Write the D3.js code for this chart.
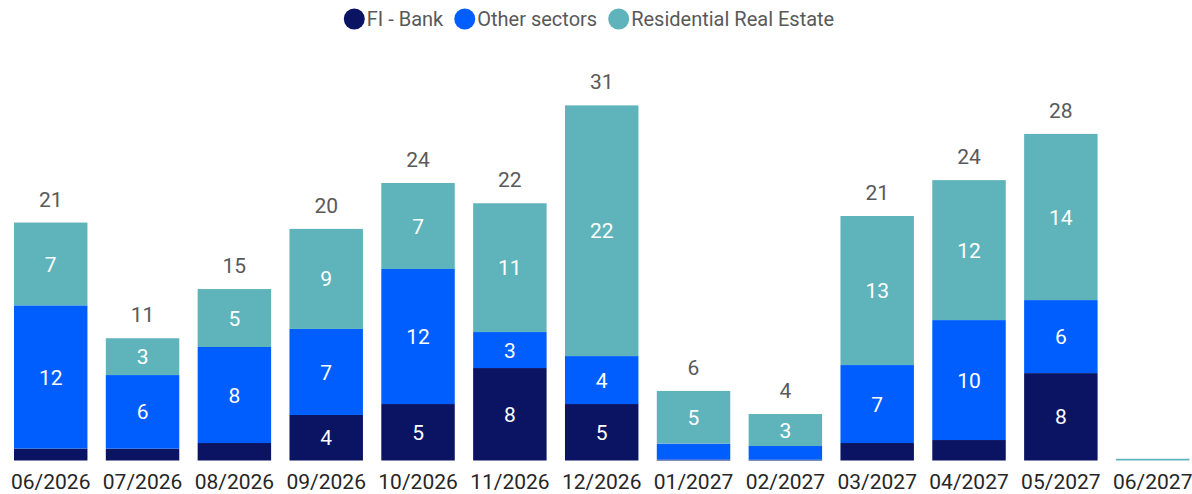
<!DOCTYPE html>
<html>
<head>
<meta charset="utf-8">
<script src="https://cdn.jsdelivr.net/npm/d3@7"></script>
<style>
  body { margin: 0; background: #fff; }
  svg { font-family: Roboto, "Noto Sans", sans-serif; display: block; }
</style>
</head>
<body>
<div class="chart"></div>
<script>
// months on the x axis
const months = ["06/2026", "07/2026", "08/2026", "09/2026", "10/2026", "11/2026", "12/2026",
                "01/2027", "02/2027", "03/2027", "04/2027", "05/2027", "06/2027"];

// series values
const fiBank       = [1.04, 1.03, 1.52, 3.96, 4.91, 8.04, 4.91, 0.08, 0.07, 1.52, 1.78, 7.6, 0];
const otherSectors = [12.45, 6.4, 8.35, 7.48, 11.74, 3.13, 4.17, 1.39, 1.19, 6.78, 10.43, 6.35, 0];
const residential  = [7.2, 3.2, 5.04, 8.7, 7.48, 11.2, 21.8, 4.58, 2.78, 12.96, 12.17, 14.45, 0.15];

const seriesNames = ["FI - Bank", "Other sectors", "Residential Real Estate"];
const seriesColors = ["#0b1462", "#005eff", "#5fb4bb"];

const WIDTH = 1192, HEIGHT = 494;

// build the table d3.stack needs
const rows = months.map((m, i) => ({
  month: m,
  "FI - Bank": fiBank[i],
  "Other sectors": otherSectors[i],
  "Residential Real Estate": residential[i]
}));

const stacked = d3.stack().keys(seriesNames)(rows);

const svg = d3.select(".chart").append("svg")
  .attr("width", WIDTH)
  .attr("height", HEIGHT);

const x = d3.scaleBand()
  .domain(months)
  .range([4.8, 1198.6])
  .paddingInner(0.2)
  .paddingOuter(0.1);

const y = d3.scaleLinear()
  .domain([0, 35])
  .range([460.5, 460.5 - 35 * 11.5]);

const color = d3.scaleOrdinal().domain(seriesNames).range(seriesColors);

// bars
const layer = svg.selectAll(".layer")
  .data(stacked)
  .enter().append("g")
  .attr("class", "layer")
  .attr("fill", d => color(d.key));

layer.selectAll("rect")
  .data(d => d)
  .enter().append("rect")
  .attr("x", d => x(d.data.month))
  .attr("y", d => y(d[1]))
  .attr("width", x.bandwidth())
  .attr("height", d => y(d[0]) - y(d[1]));

// segment labels
layer.selectAll("text")
  .data(d => d.filter(s => s[1] - s[0] >= 2))
  .enter().append("text")
  .attr("x", d => x(d.data.month) + x.bandwidth() / 2)
  .attr("y", d => (y(d[0]) + y(d[1])) / 2)
  .attr("dy", "0.36em")
  .attr("text-anchor", "middle")
  .attr("fill", "#fff")
  .attr("font-size", "21px")
  .text(d => Math.round(d[1] - d[0]));

// totals on top
const totals = rows.map(r => ({ month: r.month, total: seriesNames.reduce((s, k) => s + r[k], 0) }));
svg.selectAll(".total")
  .data(totals.filter(t => t.total >= 1))
  .enter().append("text")
  .attr("class", "total")
  .attr("x", d => x(d.month) + x.bandwidth() / 2)
  .attr("y", d => y(d.total) - 16)
  .attr("text-anchor", "middle")
  .attr("fill", "#595959")
  .attr("font-size", "21px")
  .text(d => Math.round(d.total));

// x axis labels
const xAxis = svg.append("g")
  .attr("transform", "translate(0,474)")
  .call(d3.axisBottom(x).tickSize(0).tickPadding(0));
xAxis.select(".domain").remove();
xAxis.selectAll("text")
  .attr("font-family", "Roboto, sans-serif")
  .attr("font-size", "21px")
  .attr("fill", "#262626")
  .attr("dy", "0.71em");

// legend
const legend = svg.append("g").attr("class", "legend");
let lx = 0;
seriesNames.forEach((name, i) => {
  const g = legend.append("g").attr("transform", `translate(${lx},0)`);
  g.append("circle")
    .attr("cx", 10.5)
    .attr("cy", 0)
    .attr("r", 10.5)
    .attr("fill", seriesColors[i]);
  const t = g.append("text")
    .attr("x", 23)
    .attr("y", 0)
    .attr("dy", "0.35em")
    .attr("fill", "#595959")
    .attr("font-size", "20px")
    .text(name);
  lx += 23 + t.node().getComputedTextLength() + 11;
});
const legendWidth = lx - 11;
legend.attr("transform", `translate(${589 - legendWidth / 2},19)`);
</script>
</body>
</html>
